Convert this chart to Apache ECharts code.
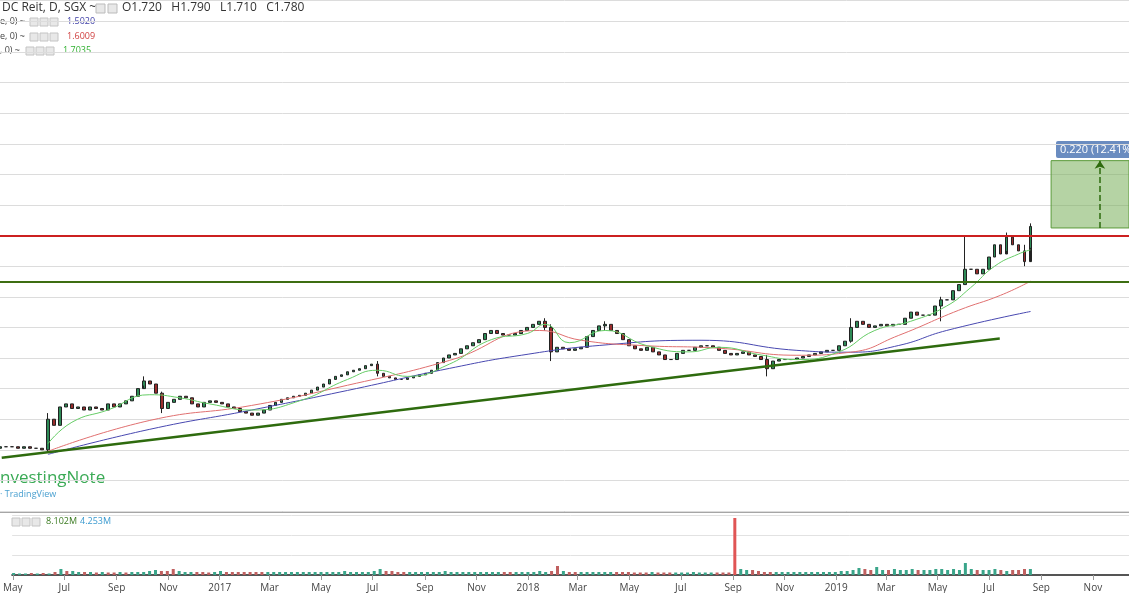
<!DOCTYPE html>
<html><head><meta charset="utf-8">
<script src="https://cdn.jsdelivr.net/npm/echarts@6/dist/echarts.min.js"></script>
<style>html,body{margin:0;padding:0;background:#fff}#c{width:1129px;height:593px}</style>
</head><body><div id="c"></div>
<script>
// weekly closes, first week starting 2016-05-02
const startDate = '2016-05-02'
const closes = [1.06, 1.06, 1.06, 1.055, 1.06, 1.055, 1.055, 1.05, 1.15, 1.13,
  1.19, 1.20, 1.185, 1.19, 1.18, 1.19, 1.185, 1.18, 1.20, 1.19,
  1.20, 1.21, 1.225, 1.25, 1.275, 1.265, 1.235, 1.185, 1.205, 1.215,
  1.225, 1.22, 1.20, 1.19, 1.205, 1.21, 1.205, 1.20, 1.19, 1.185,
  1.175, 1.17, 1.163, 1.17, 1.18, 1.195, 1.205, 1.215, 1.22, 1.225,
  1.228, 1.235, 1.245, 1.255, 1.265, 1.28, 1.29, 1.295, 1.305, 1.31,
  1.315, 1.325, 1.33, 1.30, 1.29, 1.285, 1.28, 1.28, 1.285, 1.29,
  1.295, 1.30, 1.31, 1.335, 1.35, 1.36, 1.365, 1.38, 1.39, 1.40,
  1.41, 1.43, 1.44, 1.43, 1.425, 1.425, 1.43, 1.44, 1.45, 1.46,
  1.47, 1.45, 1.37, 1.385, 1.38, 1.375, 1.38, 1.385, 1.42, 1.44,
  1.455, 1.46, 1.44, 1.43, 1.41, 1.39, 1.38, 1.375, 1.385, 1.37,
  1.36, 1.345, 1.345, 1.365, 1.375, 1.375, 1.385, 1.39, 1.39, 1.385,
  1.375, 1.365, 1.36, 1.365, 1.37, 1.36, 1.355, 1.345, 1.315, 1.34,
  1.345, 1.345, 1.345, 1.35, 1.355, 1.36, 1.365, 1.37, 1.375, 1.375,
  1.39, 1.405, 1.45, 1.47, 1.46, 1.45, 1.455, 1.46, 1.455, 1.46,
  1.46, 1.48, 1.50, 1.49, 1.49, 1.49, 1.52, 1.54, 1.54, 1.57,
  1.59, 1.64, 1.64, 1.625, 1.64, 1.68, 1.72, 1.69, 1.745, 1.72,
  1.70, 1.665, 1.78]
const firstOpen = 1.055
// notable wicks: [week, low, high]
const wicks = [[8, 1.04, 1.17], [24, 1.26, 1.29], [27, 1.17, 1.24], [63, 1.29, 1.34], [91, 1.44, 1.48],
  [92, 1.34, 1.46], [101, 1.44, 1.47], [128, 1.29, 1.36], [142, 1.40, 1.48], [157, 1.47, 1.55],
  [161, 1.59, 1.75], [168, 1.70, 1.76], [171, 1.65, 1.72], [172, 1.71, 1.79]]
const volumes = [2, 1.5, 1.5, 2, 1.5, 2, 1.5, 3, 6, 4,
  4, 3, 3, 3, 2.5, 3, 2.5, 2.5, 3, 2.5,
  3, 3, 3, 4, 5, 4, 4, 6, 4, 3,
  3, 3, 3, 2.5, 3, 4, 3, 3, 3, 3,
  3, 3, 3, 3, 3, 3, 3, 3, 3, 3,
  3, 3, 3, 3, 3, 3, 4, 3, 3, 3,
  3, 4, 6, 4, 4, 3, 3, 3, 3, 3,
  3, 3, 3, 4, 3, 3, 3, 3, 3, 3,
  3, 3, 3, 3, 3, 3, 3, 3, 3, 4,
  3, 4, 9, 4, 3, 3, 3, 3, 3, 3,
  3, 3, 3, 3, 3, 2.5, 2.5, 2.5, 3, 2.5,
  2.5, 2.5, 2.5, 2.5, 2.5, 3, 2.5, 2.5, 2.5, 2.5,
  2.5, 2.5, 57, 6, 5, 5, 4, 3, 3, 3,
  3, 3, 3, 3, 3, 3, 3, 3, 3, 3,
  4, 4, 5, 7, 6, 5, 8, 5, 5, 6,
  5, 5, 6, 5, 5, 5, 6, 6, 5, 6,
  5, 12, 6, 5, 5, 5, 6, 5, 4, 5,
  5, 6, 6]
const spikeWeek = 122
const ma200 = { 8: 1.035, 25: 1.117, 42: 1.18, 58: 1.244, 75: 1.316, 87: 1.359, 100: 1.391, 117: 1.408, 133: 1.375, 142: 1.369, 150: 1.391, 158: 1.44, 172: 1.502 }
const ma100 = { 8: 1.045, 25: 1.146, 42: 1.195, 58: 1.261, 75: 1.342, 90: 1.44, 97: 1.408, 107: 1.391, 120: 1.382, 133: 1.359, 142: 1.369, 150: 1.424, 160: 1.506, 167: 1.555, 172: 1.601 }
const ma20 = { 8: 1.07, 12: 1.14, 18: 1.18, 25: 1.23, 30: 1.22, 35: 1.20, 42: 1.18, 50: 1.21, 58: 1.28, 63: 1.31, 68: 1.29, 75: 1.33, 82: 1.41, 88: 1.43, 91: 1.46, 95: 1.40, 101: 1.44, 108: 1.39, 115: 1.37, 120: 1.385, 127: 1.36, 133: 1.345, 140: 1.37, 146: 1.44, 152: 1.47, 158: 1.52, 162: 1.58, 166: 1.65, 170: 1.69, 172: 1.7035 }
const supportLine = [['2016-05-04', 1.024], ['2019-07-14', 1.414]]
const resistance = 1.754
const breakout = 1.60
const target = [1.775, 1.995]

const t0 = new Date(startDate + 'T00:00:00Z').getTime()
const week = 7 * 86400000
const dateOf = i => t0 + i * week

const candles = []
const vols = []
let prev = firstOpen
closes.forEach((c, i) => {
  let lo = Math.min(prev, c), hi = Math.max(prev, c)
  const w = wicks.find(v => v[0] === i)
  if (w) { lo = w[1]; hi = w[2] }
  candles.push([dateOf(i), prev, c, lo, hi])
  vols.push({ value: [dateOf(i), volumes[i]], itemStyle: { color: i === spikeWeek ? '#e05555' : (c >= prev ? '#3aa58a' : '#c06060') } })
  prev = c
})
const maSeries = obj => Object.keys(obj).map(k => [dateOf(+k), obj[k]])

const xMin = '2016-05-02', xMax = '2019-12-12'
const chart = echarts.init(document.getElementById('c'))
const font = 'Open Sans'
chart.setOption({
  animation: false,
  textStyle: { fontFamily: font },
  grid: [
    { left: 0, right: 0, top: 0, height: 511 },
    { left: 0, right: 0, top: 515, height: 60 }
  ],
  xAxis: [
    { type: 'time', gridIndex: 0, min: xMin, max: xMax, axisLine: { show: false }, axisTick: { show: false }, axisLabel: { show: false }, splitLine: { show: false } },
    { type: 'time', gridIndex: 1, min: xMin, max: xMax, minInterval: 55 * 86400000, maxInterval: 62 * 86400000,
      axisLine: { lineStyle: { color: '#555', width: 2 } }, axisTick: { lineStyle: { color: '#999' } },
      axisLabel: { color: '#444', fontSize: 10, formatter: { year: '{yyyy}', month: '{MMM}' } }, splitLine: { show: false } }
  ],
  yAxis: [
    { type: 'value', gridIndex: 0, min: 0.85, max: 2.52, interval: 0.1, axisLabel: { show: false }, axisLine: { show: false }, axisTick: { show: false }, splitLine: { lineStyle: { color: '#dcdcdc' } } },
    { type: 'value', gridIndex: 1, min: 0, max: 60, interval: 20, axisLabel: { show: false }, axisLine: { show: false }, axisTick: { show: false }, splitLine: { lineStyle: { color: '#e2e2e2' } } }
  ],
  series: [
    { type: 'line', data: maSeries(ma200), symbol: 'none', smooth: true, lineStyle: { color: '#4848b0', width: 1 } },
    { type: 'line', data: maSeries(ma100), symbol: 'none', smooth: true, lineStyle: { color: '#e07070', width: 1 } },
    { type: 'line', data: maSeries(ma20), symbol: 'none', smooth: true, lineStyle: { color: '#66cc66', width: 1 } },
    {
      type: 'candlestick', data: candles, barMaxWidth: 4,
      itemStyle: { color: '#2e8b57', color0: '#9b2d2d', borderColor: '#222', borderColor0: '#222' },
      markLine: {
        symbol: 'none', silent: true, label: { show: false },
        data: [
          [{ coord: supportLine[0] }, { coord: supportLine[1] }],
          { yAxis: resistance, lineStyle: { color: '#cc2020', width: 2, type: 'solid' } },
          { yAxis: breakout, lineStyle: { color: '#3d6e12', width: 2, type: 'solid' } },
          [{ coord: ['2019-11-08', target[0]], symbol: 'none' }, { coord: ['2019-11-08', target[1]], symbol: 'arrow', symbolSize: 8, lineStyle: { type: 'dashed', width: 1.5, color: '#2e6b0e' } }]
        ],
        lineStyle: { color: '#2e6b0e', width: 2.5, type: 'solid' }
      },
      markArea: {
        silent: true,
        itemStyle: { color: 'rgba(120,175,90,0.55)', borderColor: '#5a9a3a', borderWidth: 1 },
        data: [[{ coord: ['2019-09-12', target[0]] }, { coord: [xMax, target[1]] }]]
      }
    },
    { type: 'bar', xAxisIndex: 1, yAxisIndex: 1, data: vols, barMaxWidth: 3 }
  ],
  graphic: [
    { type: 'line', shape: { x1: 0, y1: 512, x2: 1129, y2: 512 }, style: { stroke: '#888', lineWidth: 1.5 } },
    { type: 'text', left: 2, top: 2, style: { text: 'DC Reit, D, SGX ~', fontSize: 12, fill: '#333', fontFamily: font } },
    { type: 'rect', shape: { x: 96, y: 4, width: 9, height: 9 }, style: { fill: '#e8e8e8', stroke: '#bbb' } },
    { type: 'rect', shape: { x: 108, y: 4, width: 9, height: 9 }, style: { fill: '#e8e8e8', stroke: '#bbb' } },
    { type: 'text', left: 122, top: 2, style: { text: 'O1.720   H1.790   L1.710   C1.780', fontSize: 12, fill: '#333', fontFamily: font } },
    { type: 'text', left: 0, top: 17, style: { text: 'e, 0) ~', fontSize: 9, fill: '#444', fontFamily: font } },
    { type: 'text', left: 67, top: 17, style: { text: '1.5020', fontSize: 9, fill: '#4040a8', fontFamily: font } },
    { type: 'text', left: 0, top: 32, style: { text: 'e, 0) ~', fontSize: 9, fill: '#444', fontFamily: font } },
    { type: 'text', left: 67, top: 32, style: { text: '1.6009', fontSize: 9, fill: '#d04040', fontFamily: font } },
    { type: 'text', left: 0, top: 46, style: { text: ', 0) ~', fontSize: 9, fill: '#444', fontFamily: font } },
    { type: 'text', left: 63, top: 46, style: { text: '1.7035', fontSize: 9, fill: '#30b030', fontFamily: font } },
    ...[17, 32, 46].flatMap(y => [0, 1, 2].map(k => ({ type: 'rect', shape: { x: (y === 46 ? 26 : 30) + k * 10, y: y + 1, width: 8, height: 8 }, style: { fill: '#e8e8e8', stroke: '#c4c4c4' } }))),
    { type: 'text', left: 0, top: 470, style: { text: 'nvestingNote', fontSize: 17, fill: '#3aaa55', fontFamily: font } },
    { type: 'text', left: 0, top: 490, style: { text: '· TradingView', fontSize: 9, fill: '#4aa0d0', fontFamily: font } },
    ...[0, 1, 2].map(k => ({ type: 'rect', shape: { x: 12 + k * 10, y: 518, width: 8, height: 8 }, style: { fill: '#e8e8e8', stroke: '#c4c4c4' } })),
    { type: 'text', left: 46, top: 517, style: { text: '8.102M', fontSize: 9, fill: '#3a7a20', fontFamily: font } },
    { type: 'text', left: 80, top: 517, style: { text: '4.253M', fontSize: 9, fill: '#3a9ad0', fontFamily: font } },
    { type: 'text', left: 1056, top: 141, style: { text: '0.220 (12.41%)', fontSize: 11, fill: '#fff', fontFamily: font, backgroundColor: '#6a8cc0', padding: [3, 4], borderRadius: 2 } }
  ]
})
</script></body></html>
